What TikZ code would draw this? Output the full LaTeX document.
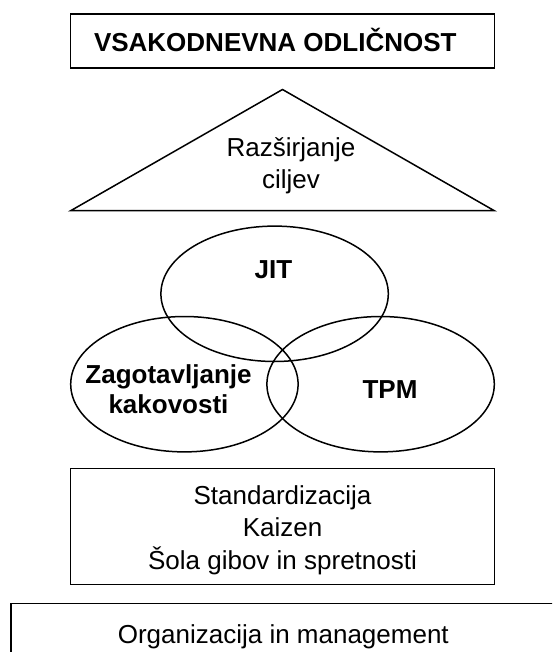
\documentclass[tikz,border=0pt]{standalone}
\usepackage{fontspec}
\setmainfont{Liberation Sans}
\usetikzlibrary{shapes.geometric}
\begin{document}
\begin{tikzpicture}[x=1pt,y=-1pt,
  outline/.style={draw=black, line width=1.5pt},
  frame/.style={outline, rectangle, inner sep=0pt, outer sep=0pt},
  ring/.style={outline, ellipse, inner sep=0pt, outer sep=0pt,
               minimum width=227.4pt, minimum height=135.4pt},
  label/.style={inner sep=0pt, anchor=base, font=\fontsize{26}{31.5}\selectfont},
  boldlabel/.style={label, font=\fontsize{26}{31.5}\selectfont\bfseries}]
\useasboundingbox (0,0) rectangle (552,652);
\fill[white] (0,0) rectangle (552,652);
\clip (0,0) rectangle (552,652);

% headline box
\node[frame, minimum width=423.6pt, minimum height=54pt] (head) at (282.5,41) {};
\node[boldlabel] (headtext) at (275.3,51.7) {VSAKODNEVNA ODLIČNOST};

% roof triangle
\coordinate (apex) at (282.5,89.5);
\coordinate (roofl) at (70.7,210.7);
\coordinate (roofr) at (494.3,210.7);
\draw[outline, line join=miter] (roofl) -- (apex) -- (roofr) -- cycle;
\node[label] (roof1) at (291,156.7) {Razširjanje};
\node[label] (roof2) at (291,188.3) {ciljev};

% three overlapping pillars
\node[ring] (jit) at (274.6,293.8) {};
\node[ring] (qa) at (184.4,384.2) {};
\node[ring] (tpm) at (380.6,384.2) {};
\node[boldlabel] (jittext) at (273.5,278) {JIT};
\node[boldlabel] (tpmtext) at (390,398.5) {TPM};
\node[boldlabel] (qa1) at (168.5,383.3) {Zagotavljanje};
\node[boldlabel] (qa2) at (168.5,413.3) {kakovosti};

% foundation box
\node[frame, minimum width=423.6pt, minimum height=116pt] (found) at (282.5,526.3) {};
\node[label] (found1) at (282.5,504) {Standardizacija};
\node[label] (found2) at (282.5,536.5) {Kaizen};
\node[label] (found3) at (282.5,569) {Šola gibov in spretnosti};

% ground box, running past the lower and right edges
\node[frame, anchor=north west, minimum width=600pt, minimum height=100pt] (org) at (11,603.3) {};
\node[label] (orgtext) at (283.3,643) {Organizacija in management};
\end{tikzpicture}
\end{document}
